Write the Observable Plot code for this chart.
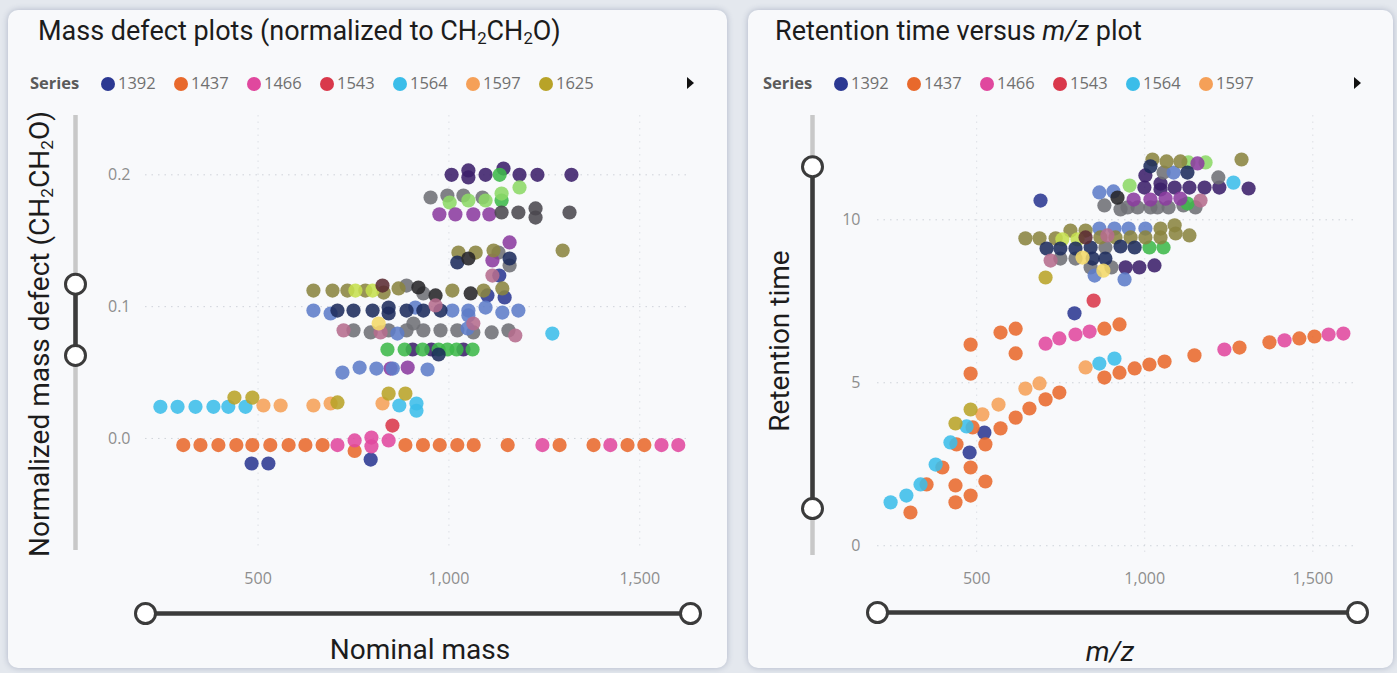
<!DOCTYPE html>
<html>
<head>
<meta charset="utf-8">
<script src="https://cdn.jsdelivr.net/npm/d3@7"></script>
<script src="https://cdn.jsdelivr.net/npm/@observablehq/plot@0.6"></script>
<style>
  html, body { margin: 0; padding: 0; }
  body { width: 1397px; height: 673px; background: #e4e8ee; position: relative; overflow: hidden; font-family: Roboto, sans-serif; }
  .card { position: absolute; top: 10px; height: 658px; background: #f8f9fb; border-radius: 10px; box-shadow: 0 0 6px rgba(40, 55, 100, 0.28); }
  .title { position: absolute; top: 14px; font: 27px/34px Roboto, sans-serif; color: #1c1c1c; white-space: nowrap; }
  .title sub, .axt sub { font-size: 62%; vertical-align: -0.25em; line-height: 0; }
  .axt { position: absolute; font: 28px/32px Roboto, sans-serif; color: #1c1c1c; white-space: nowrap; transform: translate(-50%, -50%); }
  .axt.rot { transform: translate(-50%, -50%) rotate(-90deg); }
  .legend { position: absolute; top: 71px; height: 24px; font: 16.5px/24px "Open Sans", sans-serif; color: #707070; }
  .legend .lab { position: absolute; top: 0; font-weight: 700; color: #5a5a5a; }
  .legend .item { position: absolute; top: 0; white-space: nowrap; }
  .legend .dot { display: inline-block; width: 14px; height: 14px; border-radius: 50%; vertical-align: -2px; margin-right: 3px; }
  .arrow { position: absolute; top: 77px; width: 0; height: 0; border-top: 6px solid transparent; border-bottom: 6px solid transparent; border-left: 7px solid #111; }
  .plot { position: absolute; top: 100px; }
</style>
</head>
<body>
<div class="card" style="left:8px;width:719px;"></div>
<div class="card" style="left:748px;width:645px;"></div>

<div class="title" style="left:38px;">Mass defect plots (normalized to CH<sub>2</sub>CH<sub>2</sub>O)</div>
<div class="title" style="left:775px;">Retention time versus <i>m/z</i> plot</div>

<div class="legend" id="legL" style="left:30px;"></div>
<div class="legend" id="legR" style="left:763px;"></div>
<div class="arrow" style="left:687px;"></div>
<div class="arrow" style="left:1354px;"></div>

<div class="plot" id="plotL" style="left:8px;"></div>
<div class="plot" id="plotR" style="left:748px;"></div>

<div class="axt rot" style="left:40px;top:334px;">Normalized mass defect (CH<sub>2</sub>CH<sub>2</sub>O)</div>
<div class="axt" style="left:420px;top:650px;">Nominal mass</div>
<div class="axt rot" style="left:780px;top:341px;">Retention time</div>
<div class="axt" style="left:1110px;top:652px;"><i>m/z</i></div>

<script>
// ---------------- series ----------------
const seriesNames  = ["1392","1437","1466","1543","1564","1597","1625",
                      "s8","s9","s10","s11","s12","s13","s14","s15","s16","s17","s18","s19","s20","s21"];
const seriesColors = ["#2b3892","#e8692c","#e0489e","#d9384b","#3bbde9","#f5a058","#b8a328",
                      "#3b1f6a","#6e6f75","#3db84a","#8cd867","#8b3b9f","#5d7cc8","#8a8440","#c5df4f",
                      "#1d2b5c","#262428","#b56c8d","#f2d868","#5b2b33","#4a484e"];

// ---------------- ticks / domains ----------------
const xTicks  = [500, 1000, 1500];
const mdTicks = [0, 0.1, 0.2];
const rtTicks = [0, 5, 10];
const massDomain = [205, 1633];
const mdDomain = [-0.085, 0.245];
const rtDomain = [-0.3, 13.2];
const mdSelected = [0.063, 0.117];   // y range-slider selection (mass defect)
const rtSelected = [1.14, 11.63];    // y range-slider selection (retention time)

// ---------------- mass defect panel: [nominal mass, normalized mass defect] ----------------
const md_1392 = [[483,-0.019],[527,-0.019],[795,-0.016],[1101,0.1085],[1146,0.107],[1132,0.1236]];
const md_1437 = [[304,-0.005],[349,-0.005],[396,-0.005],[443,-0.005],[485,-0.005],[532,-0.005],[580,-0.005],
                 [624,-0.005],[669,-0.005],[753,-0.0095],[886,-0.005],[932,-0.005],[976,-0.005],[1022,-0.005],
                 [1065,-0.005],[1154,-0.005],[1290,-0.005],[1379,-0.005],[1468,-0.005],[1512,-0.005]];
const md_1466 = [[708,-0.005],[753,-0.0015],[797,0.0007],[797,-0.006],[842,-0.0015],[1245,-0.005],
                 [1423,-0.005],[1557,-0.005],[1601,-0.005]];
const md_1543 = [[852,0.0098]];
const md_1564 = [[244,0.024],[289,0.024],[336,0.024],[383,0.024],[422,0.024],[467,0.024],
                 [870,0.025],[915,0.0265],[915,0.021],[1271,0.0796]];
const md_1597 = [[514,0.025],[559,0.025],[645,0.025],[690,0.0265],[826,0.0265]];
const md_1625 = [[438,0.031],[485,0.031],[708,0.0273],[842,0.034],[886,0.034]];
const md_s8  = [[905,0.0675],[954,0.0675],[1038,0.0675],[1007,0.2],[1051,0.2033],[1051,0.198],[1096,0.2],
                [1143,0.2048],[1185,0.2],[1232,0.2],[1321,0.2]];
const md_s9  = [[750,0.082],[795,0.0804],[842,0.082],[889,0.082],[907,0.0872],[933,0.082],[978,0.082],
                [1022,0.082],[1064,0.0804],[1112,0.0804],[1156,0.082],[889,0.116],[933,0.11],[1130,0.141],
                [1159,0.1312],[952,0.1828],[996,0.1843],[1038,0.1843],[1088,0.1828]];
const md_s10 = [[839,0.0675],[884,0.0675],[931,0.0675],[973,0.0675],[996,0.0675],[1020,0.0675],[1062,0.0675],
                [1138,0.1805],[1133,0.2]];
const md_s11 = [[1002,0.179],[1051,0.1805],[1096,0.1805],[1138,0.1858],[1185,0.1904]];
const md_s12 = [[847,0.053],[892,0.0538],[975,0.17],[1017,0.17],[1064,0.17],[1106,0.17],[1114,0.135],[1159,0.1487]];
const md_s13 = [[721,0.05],[766,0.0538],[810,0.053],[853,0.053],[944,0.0523],[865,0.0796],[1049,0.0834],
                [645,0.097],[690,0.0948],[912,0.0993],[1009,0.097],[1051,0.097],[1051,0.0933],[1096,0.0993],
                [1140,0.0955],[1182,0.097]];
const md_s14 = [[645,0.1122],[695,0.1122],[734,0.1122],[781,0.1122],[829,0.1107],[868,0.1138],[1009,0.1122],
                [1091,0.1122],[1140,0.1138],[1025,0.141],[1070,0.141],[1117,0.1426],[1298,0.1426]];
const md_s15 = [[755,0.1122],[800,0.1122]];
const md_s16 = [[708,0.097],[750,0.097],[800,0.097],[842,0.0993],[842,0.0948],[889,0.097],[933,0.097],
                [978,0.097],[973,0.0637],[1022,0.1335],[1159,0.1365]];
const md_s17 = [[920,0.1145],[965,0.1085],[1057,0.11],[1051,0.1365]];
const md_s18 = [[724,0.082],[821,0.0804],[1064,0.0872],[1174,0.0781],[965,0.1009],[1114,0.1236]];
const md_s19 = [[816,0.0872]];
const md_s20 = [[826,0.116]];
const md_s21 = [[1138,0.1714],[1182,0.1714],[1227,0.1745],[1227,0.1676],[1316,0.1714]];

// ---------------- retention time panel: [m/z, retention time] ----------------
const rt_1392 = [[479,2.86],[523,3.47],[791,7.13],[690,10.59]];
const rt_1437 = [[303,1.02],[351,1.88],[398,2.40],[440,3.11],[488,3.63],[526,3.11],[482,2.40],[526,1.97],
                 [437,1.85],[482,1.54],[437,1.33],[571,3.60],[616,3.93],[657,4.21],[705,4.49],[746,4.70],
                 [482,5.28],[482,6.17],[571,6.54],[616,6.66],[616,5.90],[880,6.66],[925,6.79],[880,5.16],
                 [925,5.31],[970,5.44],[1014,5.56],[1059,5.65],[1148,5.84],[1282,6.08],[1371,6.24],
                 [1460,6.36],[1505,6.42]];
const rt_1466 = [[705,6.20],[746,6.36],[794,6.48],[836,6.57],[1237,6.02],[1416,6.30],[1547,6.48],[1591,6.51]];
const rt_1543 = [[848,7.52]];
const rt_1564 = [[244,1.33],[291,1.54],[333,1.88],[378,2.49],[422,3.17],[470,3.66],[865,5.59],[910,5.74],[1264,11.14]];
const rt_1597 = [[517,4.03],[565,4.33],[645,4.82],[687,4.98],[824,5.47]];
const rt_1625 = [[437,3.75],[482,4.18],[705,8.23]];
const rt_s8  = [[1002,11.36],[999,10.99],[1047,11.11],[1047,10.93],[1089,10.99],[1133,10.99],[1178,10.99],
                [1222,10.99],[1309,10.96],[943,8.54],[984,8.54],[1029,8.60]];
const rt_s9  = [[1056,11.45],[1219,11.30],[880,10.44],[928,10.32],[949,10.38],[979,10.38],[1017,10.38],
                [1038,10.38],[1071,10.38],[1115,10.44],[1151,10.38],[883,9.15],[749,8.81],[794,8.81],
                [839,8.54],[901,8.54]];
const rt_s10 = [[1127,10.50],[1014,9.15],[1056,9.15]];
const rt_s11 = [[1130,11.76],[1181,11.76],[955,11.05]];
const rt_s12 = [[1157,11.73],[967,10.62],[1017,10.62],[1062,10.65],[1106,10.65]];
const rt_s13 = [[1086,11.45],[865,10.84],[907,10.87],[865,9.73],[910,9.73],[952,9.73],[1002,9.73],[851,8.29],[940,8.17]];
const rt_s14 = [[1023,11.85],[1065,11.79],[1106,11.79],[1288,11.85],[645,9.43],[687,9.43],[735,9.43],[868,9.46],
                [913,9.46],[958,9.46],[1002,9.46],[1047,9.46],[1092,9.58],[1133,9.52],[779,9.67],[824,9.67],
                [1047,9.73],[1089,9.83]];
const rt_s15 = [[755,9.40],[800,9.40]];
const rt_s16 = [[1017,11.64],[1127,11.45],[708,9.12],[749,9.12],[794,9.12],[839,9.15],[928,9.18],[970,9.15],
                [845,8.81],[883,8.81]];
const rt_s17 = [[919,10.68]];
const rt_s18 = [[1166,10.59],[889,9.52],[720,8.75]];
const rt_s19 = [[815,8.84],[877,8.44]];
const rt_s20 = [[824,9.46]];

// ---------------- build tables ----------------
const mdSets = [["1392",md_1392],["1437",md_1437],["1466",md_1466],["1543",md_1543],["1564",md_1564],
  ["1597",md_1597],["1625",md_1625],["s8",md_s8],["s9",md_s9],["s10",md_s10],["s11",md_s11],["s12",md_s12],
  ["s13",md_s13],["s14",md_s14],["s15",md_s15],["s16",md_s16],["s17",md_s17],["s18",md_s18],["s19",md_s19],
  ["s20",md_s20],["s21",md_s21]];
const rtSets = [["1392",rt_1392],["1437",rt_1437],["1466",rt_1466],["1543",rt_1543],["1564",rt_1564],
  ["1597",rt_1597],["1625",rt_1625],["s8",rt_s8],["s9",rt_s9],["s10",rt_s10],["s11",rt_s11],["s12",rt_s12],
  ["s13",rt_s13],["s14",rt_s14],["s15",rt_s15],["s16",rt_s16],["s17",rt_s17],["s18",rt_s18],["s19",rt_s19],
  ["s20",rt_s20]];
const toRows = sets => sets.flatMap(([s, pts]) => pts.map(([x, y]) => ({series: s, x, y})));
const mdRows = toRows(mdSets);
const rtRows = toRows(rtSets);

// ---------------- legends ----------------
function legend(el, count) {
  const lab = document.createElement("span");
  lab.className = "lab"; lab.textContent = "Series"; lab.style.left = "0px";
  el.appendChild(lab);
  for (let i = 0; i < count; i++) {
    const it = document.createElement("span");
    it.className = "item";
    it.style.left = (71 + i * 73) + "px";
    it.innerHTML = `<span class="dot" style="background:${seriesColors[i]}"></span>${seriesNames[i]}`;
    el.appendChild(it);
  }
}
legend(document.getElementById("legL"), 7);
legend(document.getElementById("legR"), 6);

// ---------------- panels ----------------
function panel(o) {
  const x0 = o.xDomain[0];
  const [yLo, yHi] = o.yDomain;
  const dark = "#3b3b3b";
  return Plot.plot({
    width: o.width, height: o.height,
    marginLeft: o.ml, marginRight: o.mr, marginTop: o.mt, marginBottom: o.mb,
    x: {domain: o.xDomain},
    y: {domain: o.yDomain},
    color: {domain: seriesNames, range: seriesColors},
    style: {background: "transparent", fontFamily: "'Open Sans', sans-serif", fontSize: "16px", color: "#8e8e8e", overflow: "visible"},
    marks: [
      Plot.gridY(o.yTicks, {stroke: "#c5cad2", strokeOpacity: 0.8, strokeDasharray: "1.5,5"}),
      Plot.gridX(xTicks, {stroke: "#c5cad2", strokeOpacity: 0.5, strokeDasharray: "1.5,5"}),
      Plot.axisX(xTicks, {tickSize: 0, tickPadding: o.xPad, tickFormat: d3.format(","), label: null}),
      Plot.axisY(o.yTicks, {tickSize: 0, tickPadding: o.yPad, tickFormat: o.yFormat, label: null}),
      // vertical range slider
      Plot.ruleX([x0], {y1: () => yLo, y2: () => yHi, dx: o.ysDx, stroke: "#c8c8c8", strokeWidth: 4.5}),
      Plot.ruleX([x0], {y1: () => o.ySel[0], y2: () => o.ySel[1], dx: o.ysDx, stroke: dark, strokeWidth: 4.5}),
      Plot.dot(o.ySel, {x: () => x0, y: d => d, dx: o.ysDx, r: 10, fill: "#fff", stroke: dark, strokeWidth: 3}),
      // horizontal range slider
      Plot.ruleY([yLo], {x1: () => o.xDomain[0], x2: () => o.xDomain[1], dy: o.xsDy, stroke: dark, strokeWidth: 4.5}),
      Plot.dot(o.xDomain, {x: d => d, y: () => yLo, dy: o.xsDy, r: 10, fill: "#fff", stroke: dark, strokeWidth: 3}),
      // data
      Plot.dot(o.rows, {x: "x", y: "y", fill: "series", r: 7.1, fillOpacity: 0.88})
    ]
  });
}

document.getElementById("plotL").appendChild(panel({
  width: 717, height: 568, ml: 137, mr: 35, mt: 15, mb: 118,
  xDomain: massDomain, yDomain: mdDomain, yTicks: mdTicks, yFormat: d3.format(".1f"),
  xPad: 22, yPad: 15, ysDx: -70, xsDy: 63, ySel: mdSelected, rows: mdRows
}));
document.getElementById("plotR").appendChild(panel({
  width: 645, height: 568, ml: 129, mr: 36, mt: 15, mb: 113,
  xDomain: massDomain, yDomain: rtDomain, yTicks: rtTicks, yFormat: d3.format("d"),
  xPad: 17, yPad: 17, ysDx: -65, xsDy: 57, ySel: rtSelected, rows: rtRows
}));
</script>
</body>
</html>
